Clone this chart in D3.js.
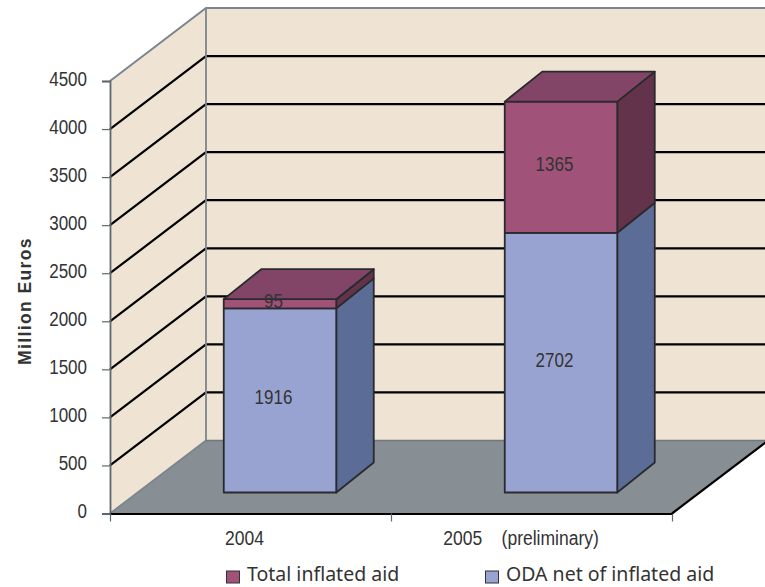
<!DOCTYPE html>
<html>
<head>
<meta charset="utf-8">
<script src="https://cdn.jsdelivr.net/npm/d3@7"></script>
<style>
  html, body { margin: 0; padding: 0; background: #fff; }
  svg { display: block; }
  text { fill: #333; }
  .narrow { font-family: "Liberation Sans", sans-serif; font-size: 20px; }
</style>
</head>
<body>
<div id="chart"></div>
<script>
const categories = ["2004", "2005    (preliminary)"];
const inflatedAid = [95, 1365];
const odaNet = [1916, 2702];
const yTicks = [0, 500, 1000, 1500, 2000, 2500, 3000, 3500, 4000, 4500];
const legendLabels = ["Total inflated aid", "ODA net of inflated aid"];

const width = 765, height = 587;
const svg = d3.select("#chart").append("svg").attr("width", width).attr("height", height);

// scales for the front plane of the 3d box
const x = d3.scaleBand().domain(categories).range([110, 672]);
const y = d3.scaleLinear().domain([0, 4500]).range([513.5, 81]);

// depth of the box, and of the bars inside it
const wallDx = 96, wallDy = -73;
const barFrontDx = 29.5, barFrontDy = -21;
const barSideDx = 37.5, barSideDy = -30;
const barWidth = 112.5;

const wallFill = "#efe4d3", floorFill = "#878f94", wallLine = "#7b858d";
const colors = {
  inflated: { front: "#a05278", top: "#824568", side: "#63324b" },
  oda: { front: "#99a3d1", top: "#99a3d1", side: "#5b6d96" },
};

const poly = (pts) => pts.map((p) => p.join(",")).join(" ");
const [x0, x1] = x.range();

// side wall, back wall, floor
svg.append("polygon")
  .attr("points", poly([[x0, y(4500)], [x0 + wallDx, y(4500) + wallDy], [x0 + wallDx, y(0) + wallDy], [x0, y(0)]]))
  .attr("fill", wallFill);
svg.append("polygon")
  .attr("points", poly([[x0 + wallDx, y(4500) + wallDy], [x1 + wallDx, y(4500) + wallDy], [x1 + wallDx, y(0) + wallDy], [x0 + wallDx, y(0) + wallDy]]))
  .attr("fill", wallFill);
svg.append("polygon")
  .attr("points", poly([[x0, y(0)], [x0 + wallDx, y(0) + wallDy], [x1 + wallDx, y(0) + wallDy], [x1, y(0)]]))
  .attr("fill", floorFill);

// gridlines on both walls
const gridTicks = yTicks.filter((d) => d > 0 && d < 4500);
svg.append("g").selectAll("path").data(gridTicks).join("path")
  .attr("d", (d) => `M${x0},${y(d)}L${x0 + wallDx},${y(d) + wallDy}L${x1 + wallDx},${y(d) + wallDy}`)
  .attr("fill", "none").attr("stroke", "#000").attr("stroke-width", 2.2);

// wall edges
svg.append("path")
  .attr("d", `M${x0},${y(4500)}L${x0 + wallDx},${y(4500) + wallDy}L${x1 + wallDx},${y(4500) + wallDy}`)
  .attr("fill", "none").attr("stroke", wallLine).attr("stroke-width", 2);
svg.append("path")
  .attr("d", `M${x0 + wallDx},${y(4500) + wallDy}V${y(0) + wallDy}L${x0},${y(0)}`)
  .attr("fill", "none").attr("stroke", wallLine).attr("stroke-width", 1.8);
svg.append("line")
  .attr("x1", x0 + wallDx).attr("x2", x1 + wallDx)
  .attr("y1", y(0) + wallDy).attr("y2", y(0) + wallDy)
  .attr("stroke", "#6f787e").attr("stroke-width", 1.4);

// stacked bars
const table = categories.map((c, i) => ({ cat: c, oda: odaNet[i], inflated: inflatedAid[i] }));
const stacked = d3.stack().keys(["oda", "inflated"])(table);

const bars = svg.append("g")
  .attr("stroke", "#2a2a2e").attr("stroke-width", 1.8).attr("stroke-linejoin", "round");

stacked.forEach((layer) => {
  const c = colors[layer.key];
  layer.forEach((d, i) => {
    const left = x(categories[i]) + x.bandwidth() / 2 + barFrontDx - barWidth / 2;
    const right = left + barWidth;
    const yb = y(d[0]) + barFrontDy, yt = y(d[1]) + barFrontDy;
    bars.append("polygon").attr("fill", c.side)
      .attr("points", poly([[right, yb], [right + barSideDx, yb + barSideDy], [right + barSideDx, yt + barSideDy], [right, yt]]));
    bars.append("rect").attr("fill", c.front)
      .attr("x", left).attr("y", yt).attr("width", barWidth).attr("height", yb - yt);
    if (layer.key === "inflated") {
      bars.append("polygon").attr("fill", c.top)
        .attr("points", poly([[left, yt], [left + barSideDx, yt + barSideDy], [right + barSideDx, yt + barSideDy], [right, yt]]));
    }
    svg.append("text").attr("class", "narrow")
      .attr("x", (left + right) / 2 - 6.5).attr("y", (yb + yt) / 2 - 3)
      .attr("dy", "0.35em").attr("text-anchor", "middle")
      .text(d[1] - d[0]);
  });
});

// y axis
const yAxis = svg.append("g").attr("transform", `translate(${x0},0)`)
  .call(d3.axisLeft(y).tickValues(yTicks).tickSize(8).tickPadding(15).tickFormat(d3.format("d")));
yAxis.attr("font-family", null).attr("font-size", null);
yAxis.select(".domain").attr("stroke", "#5f666c").attr("stroke-width", 1.8);
yAxis.selectAll(".tick line").attr("stroke", "#5f666c").attr("stroke-width", 1.2);
yAxis.selectAll("text").attr("class", "narrow").attr("dy", "0.2em").style("fill", "#333");

// x axis: front floor edge with ticks at category boundaries
const xEdge = d3.scaleLinear().domain([0, categories.length]).range(x.range());
const xAxis = svg.append("g").attr("transform", `translate(0,${y(0)})`)
  .call(d3.axisBottom(xEdge).tickValues(d3.range(categories.length + 1)).tickSize(8).tickSizeOuter(0).tickFormat(""));
xAxis.select(".domain").attr("stroke", "#000").attr("stroke-width", 2.2);
xAxis.selectAll(".tick line").attr("stroke", "#5f666c").attr("stroke-width", 1.2);
svg.append("line")
  .attr("x1", x1).attr("y1", y(0)).attr("x2", x1 + wallDx).attr("y2", y(0) + wallDy)
  .attr("stroke", "#000").attr("stroke-width", 2.2);

// no narrow font installed, so squeeze the regular one
const squeeze = (sel, k) => sel.each(function () {
  d3.select(this)
    .attr("textLength", this.getComputedTextLength() * k)
    .attr("lengthAdjust", "spacingAndGlyphs");
});
squeeze(svg.selectAll("text.narrow"), 0.85);

// category labels
const catLabels = svg.append("g").selectAll("text").data(categories).join("text")
  .attr("class", "narrow").style("white-space", "pre")
  .attr("x", (d, i) => x(d) + x.bandwidth() / 2 - [6, 10.5][i])
  .attr("y", 545).attr("text-anchor", "middle")
  .text((d) => d);
squeeze(catLabels, 0.875);

// axis title
svg.append("text")
  .attr("transform", "translate(31,301) rotate(-90)")
  .attr("text-anchor", "middle")
  .attr("font-family", "Liberation Sans, sans-serif").attr("font-size", 19)
  .attr("font-weight", "bold").attr("letter-spacing", 1.5)
  .attr("textLength", 128).attr("lengthAdjust", "spacingAndGlyphs")
  .text("Million Euros");

// legend
const legendX = [226, 485];
const legendFill = [colors.inflated.front, colors.oda.front];
const legend = svg.append("g").selectAll("g").data(legendLabels).join("g")
  .attr("transform", (d, i) => `translate(${legendX[i]},570)`);
legend.append("rect").attr("x", 0.5).attr("y", 1).attr("width", 13).attr("height", 12)
  .attr("fill", (d, i) => legendFill[i]).attr("stroke", "#333").attr("stroke-width", 1);
legend.append("text").attr("x", 21).attr("y", 11)
  .attr("font-family", "Noto Sans, Open Sans, sans-serif").attr("font-size", 19.5)
  .text((d) => d);
</script>
</body>
</html>
